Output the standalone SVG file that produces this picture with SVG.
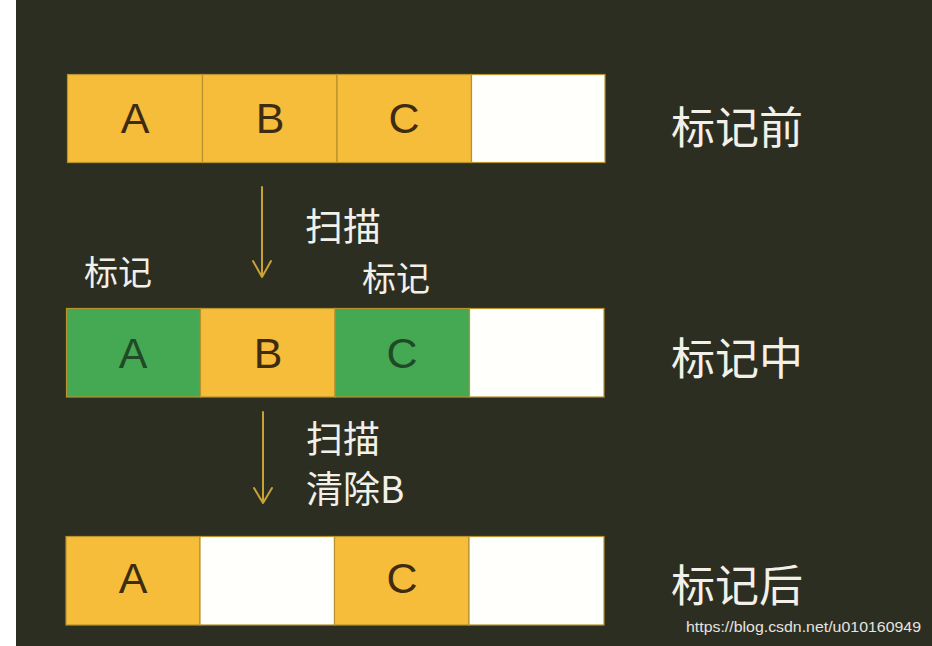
<svg xmlns="http://www.w3.org/2000/svg" width="932" height="646" viewBox="0 0 932 646">
<style>
.cell{stroke:#b8922c;stroke-width:1.2}
.y{fill:#f5bd3a}
.g{fill:#45a853}
.w{fill:#fffffb}
.lt{font-family:"Liberation Sans",Arial,sans-serif;font-size:43px;fill:#3e2c12;text-anchor:middle}
.lg{fill:#1f4a25}
.cn{font-family:"Noto Sans CJK SC","Noto Sans",sans-serif;fill:#f2f0e8}
.big{font-size:44px}
.arr{stroke:#c9a235;stroke-width:2;fill:none;stroke-linecap:round;stroke-linejoin:round}
</style>
<rect x="0" y="0" width="932" height="646" fill="#ffffff"/>
<rect x="16" y="0" width="916" height="646" fill="#2d2e22"/>
<g id="row1">
<rect class="cell y" x="67.5" y="74.5" width="135" height="88"/>
<rect class="cell y" x="202.5" y="74.5" width="134.5" height="88"/>
<rect class="cell y" x="337" y="74.5" width="134.5" height="88"/>
<rect class="cell w" x="471.5" y="74.5" width="133.5" height="88"/>
<text class="lt" x="135" y="133">A</text>
<text class="lt" x="270" y="133">B</text>
<text class="lt" x="404" y="133">C</text>
</g>
<g id="row2">
<rect class="cell g" x="66.5" y="308.5" width="134" height="88.5"/>
<rect class="cell y" x="200.5" y="308.5" width="134.5" height="88.5"/>
<rect class="cell g" x="335" y="308.5" width="134.5" height="88.5"/>
<rect class="cell w" x="469.5" y="308.5" width="134.5" height="88.5"/>
<text class="lt lg" x="133" y="368">A</text>
<text class="lt" x="268" y="368">B</text>
<text class="lt lg" x="402" y="368">C</text>
</g>
<g id="row3">
<rect class="cell y" x="66" y="536.5" width="134" height="88.5"/>
<rect class="cell w" x="200" y="536.5" width="134.5" height="88.5"/>
<rect class="cell y" x="334.5" y="536.5" width="134.5" height="88.5"/>
<rect class="cell w" x="469" y="536.5" width="135" height="88.5"/>
<text class="lt" x="133" y="593">A</text>
<text class="lt" x="402" y="593">C</text>
</g>
<g id="labels">
<text class="cn big" x="671" y="144">标记前</text>
<text class="cn big" x="671" y="375">标记中</text>
<text class="cn big" x="671" y="602">标记后</text>
<text class="cn" x="305" y="240" font-size="38">扫描</text>
<text class="cn" x="84" y="285" font-size="34">标记</text>
<text class="cn" x="362" y="291" font-size="34">标记</text>
<text class="cn" x="306" y="453" font-size="37">扫描</text>
<text class="cn" x="306" y="503" font-size="37">清除B</text>
<text x="686" y="632" font-family="Liberation Sans,Arial,sans-serif" font-size="15.5" textLength="235" lengthAdjust="spacingAndGlyphs" fill="#e4e4e0">https://blog.csdn.net/u010160949</text>
</g>
<g id="connectors">
<path class="arr" d="M262,187 V277 M253,261 L262,277 L271,261"/>
<path class="arr" d="M263,412 V503 M254,488 L263,503 L272,488"/>
</g>
</svg>
